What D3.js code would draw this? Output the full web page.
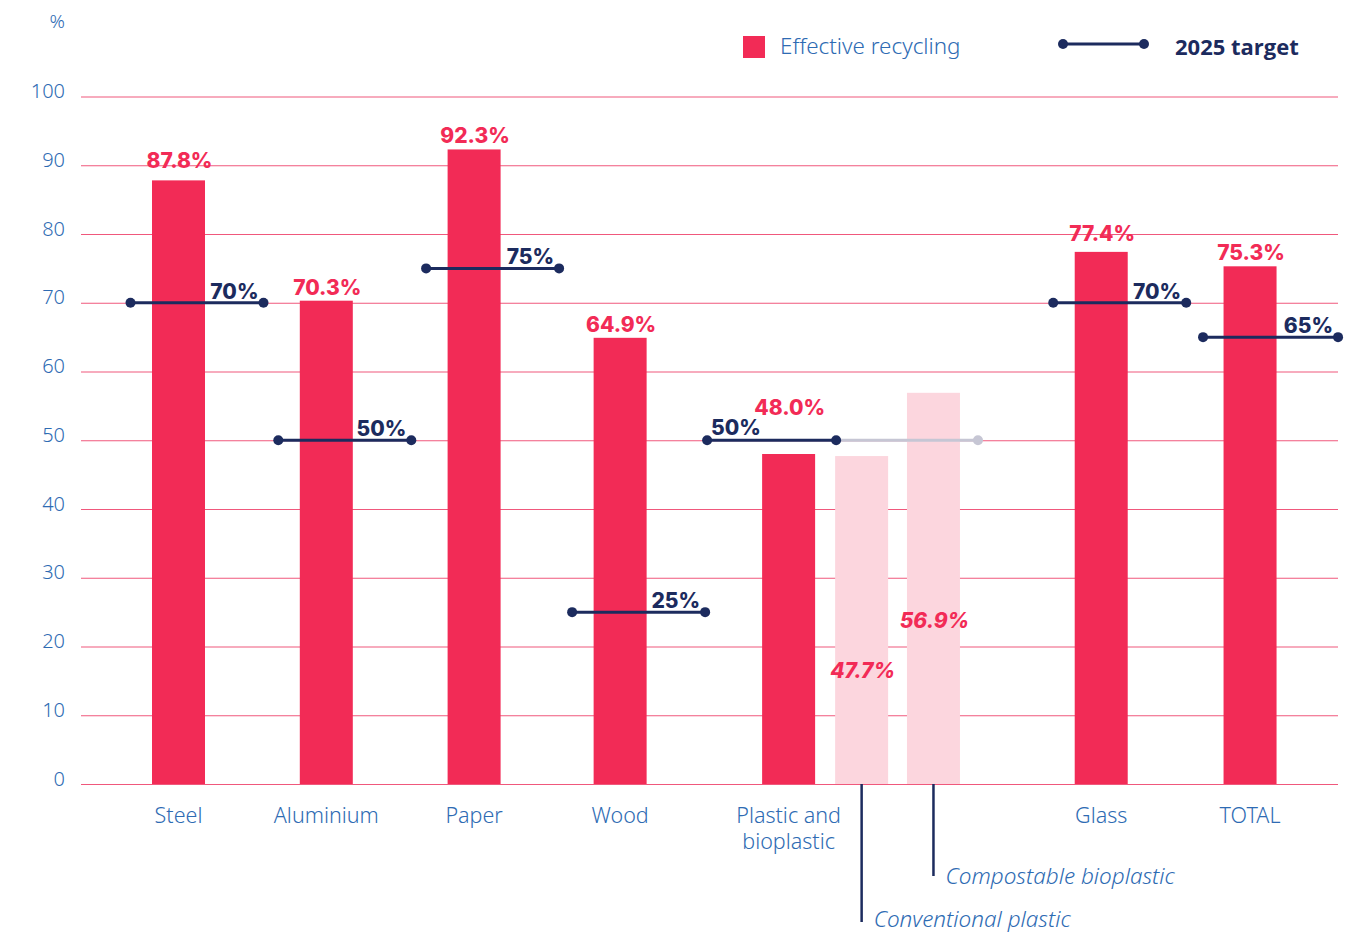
<!DOCTYPE html>
<html>
<head>
<meta charset="utf-8">
<script src="https://cdn.jsdelivr.net/npm/d3@7"></script>
<style>
  html, body { margin: 0; padding: 0; background: #fff; }
  svg { display: block; }
</style>
</head>
<body>
<svg id="chart" width="1354" height="934"></svg>
<script>
// ---------- DATA ----------
const categories = ["Steel", "Aluminium", "Paper", "Wood", "Plastic and bioplastic", "Glass", "TOTAL"];
const effectiveRecycling = [87.8, 70.3, 92.3, 64.9, 48.0, 77.4, 75.3];
const targets2025 = [70, 50, 75, 25, 50, 70, 65];
const plasticSubCategories = ["Conventional plastic", "Compostable bioplastic"];
const plasticSubValues = [47.7, 56.9];
const yTicks = [0, 10, 20, 30, 40, 50, 60, 70, 80, 90, 100];
const legendLabels = ["Effective recycling", "2025 target"];
const yUnit = "%";

// ---------- STYLE ----------
const RED = "#F22B56", PINK = "#FCD6DE", NAVY = "#1C2B5E", BLUE = "#2E6BB3", GRID = "#F0587C", GREY = "#C6C6D4";
const TEXT_FONT = "'Noto Sans', sans-serif";
const BOLD_FONT = "Inter, sans-serif";

const svg = d3.select("#chart");

// ---------- SCALES ----------
const y = d3.scaleLinear().domain([0, 100]).range([784, 96.5]);
// slot layout (in units of category spacing)
const slotOf = {
  "Steel": 0, "Aluminium": 1, "Paper": 2, "Wood": 2.988, "Plastic and bioplastic": 4.128,
  "Conventional plastic": 4.622, "Compostable bioplastic": 5.108, "Glass": 6.243, "TOTAL": 7.25
};
const x = d3.scaleLinear().domain([0, 1]).range([178.5, 326.3]);
const cx = name => x(slotOf[name]);
const barW = 53;

// ---------- GRID ----------
const yAxis = d3.axisLeft(y).tickValues(yTicks).tickSize(-(1338 - 81)).tickFormat(d3.format("d"));
const gAxis = svg.append("g").attr("transform", "translate(81,0)").call(yAxis);
gAxis.select(".domain").remove();
gAxis.selectAll(".tick line").attr("stroke", GRID).attr("stroke-width", 1.2);
gAxis.selectAll(".tick text")
  .attr("x", -16).attr("dy", "0.05em")
  .attr("fill", BLUE).style("font-family", TEXT_FONT).style("font-size", "20px").style("font-weight", 300);

svg.append("text").attr("x", 65).attr("y", 28).attr("text-anchor", "end")
  .attr("fill", BLUE).style("font-family", TEXT_FONT).style("font-size", "19px").style("font-weight", 300)
  .text(yUnit);

// ---------- BARS ----------
const mainData = categories.map((c, i) => ({ c, v: effectiveRecycling[i], t: targets2025[i] }));
const subData = plasticSubCategories.map((c, i) => ({ c, v: plasticSubValues[i] }));

svg.append("g").selectAll("rect").data(subData).join("rect")
  .attr("x", d => cx(d.c) - barW / 2).attr("width", barW)
  .attr("y", d => y(d.v)).attr("height", d => y(0) - y(d.v))
  .attr("fill", PINK);

svg.append("g").selectAll("rect").data(mainData).join("rect")
  .attr("x", d => cx(d.c) - barW / 2).attr("width", barW)
  .attr("y", d => y(d.v)).attr("height", d => y(0) - y(d.v))
  .attr("fill", RED);

// ---------- TARGET LINES ----------
const defaultSpan = [-48, 85];
const tg = svg.append("g");
mainData.forEach(d => {
  let x0, x1;
  if (d.c === "Plastic and bioplastic") {
    x0 = cx(d.c) - 81.5;
    x1 = cx("Conventional plastic") - 25.5;
    const x2 = cx("Compostable bioplastic") + 44.5;
    tg.append("line").attr("x1", x1).attr("x2", x2).attr("y1", y(d.t)).attr("y2", y(d.t))
      .attr("stroke", GREY).attr("stroke-width", 3);
    tg.append("circle").attr("cx", x2).attr("cy", y(d.t)).attr("r", 5).attr("fill", GREY);
  } else {
    x0 = cx(d.c) + defaultSpan[0];
    x1 = cx(d.c) + defaultSpan[1];
    if (d.c === "TOTAL") { x0 += 1; x1 += 3; }
  }
  tg.append("line").attr("x1", x0).attr("x2", x1).attr("y1", y(d.t)).attr("y2", y(d.t))
    .attr("stroke", NAVY).attr("stroke-width", 3);
  tg.append("circle").attr("cx", x0).attr("cy", y(d.t)).attr("r", 5).attr("fill", NAVY);
  tg.append("circle").attr("cx", x1).attr("cy", y(d.t)).attr("r", 5).attr("fill", NAVY);
  const left = d.c === "Plastic and bioplastic";
  tg.append("text")
    .attr("x", left ? x0 + 4 : x1 - 5)
    .attr("y", y(d.t) - (left ? 5 : 4))
    .attr("text-anchor", left ? "start" : "end")
    .attr("fill", NAVY).style("font-family", BOLD_FONT).style("font-size", "21px").style("font-weight", 800)
    .text(d.t + "%");
});

// ---------- VALUE LABELS ----------
const labelGap = { "Steel": 12, "Glass": 11, "Plastic and bioplastic": 39 };
svg.append("g").selectAll("text").data(mainData).join("text")
  .attr("x", d => cx(d.c) + 1)
  .attr("y", d => y(d.v) - (labelGap[d.c] || 6))
  .attr("text-anchor", "middle")
  .attr("fill", RED).style("font-family", BOLD_FONT).style("font-size", "21px").style("font-weight", 800)
  .text(d => d3.format(".1f")(d.v) + "%");

const insideBaseline = { "Conventional plastic": 678, "Compostable bioplastic": 628 };
svg.append("g").selectAll("text").data(subData).join("text")
  .attr("x", d => cx(d.c) + 1)
  .attr("y", d => insideBaseline[d.c])
  .attr("text-anchor", "middle")
  .attr("fill", RED).style("font-family", BOLD_FONT).style("font-size", "21px").style("font-weight", 800)
  .style("font-style", "italic")
  .text(d => d3.format(".1f")(d.v) + "%");

// ---------- CATEGORY LABELS ----------
const catG = svg.append("g");
mainData.forEach(d => {
  if (d.c === "Plastic and bioplastic") {
    ["Plastic and", "bioplastic"].forEach((line, k) => {
      catG.append("text").attr("x", cx(d.c)).attr("y", 823 + k * 25.5).attr("text-anchor", "middle")
        .attr("fill", BLUE).style("font-family", TEXT_FONT).style("font-size", "21.5px").style("font-weight", 300)
        .text(line);
    });
  } else {
    catG.append("text").attr("x", cx(d.c)).attr("y", 823).attr("text-anchor", "middle")
      .attr("fill", BLUE).style("font-family", TEXT_FONT).style("font-size", "21.5px").style("font-weight", 300)
      .text(d.c);
  }
});

// ---------- SUB-CATEGORY ANNOTATIONS ----------
const annEnd = { "Conventional plastic": 922, "Compostable bioplastic": 876 };
const annBaseline = { "Conventional plastic": 927, "Compostable bioplastic": 884 };
subData.forEach(d => {
  const xx = cx(d.c);
  catG.append("line").attr("x1", xx).attr("x2", xx).attr("y1", y(0)).attr("y2", annEnd[d.c])
    .attr("stroke", NAVY).attr("stroke-width", 2.5);
  catG.append("text").attr("x", xx + 12).attr("y", annBaseline[d.c])
    .attr("fill", BLUE).style("font-family", TEXT_FONT).style("font-size", "22.5px").style("font-weight", 300)
    .style("font-style", "italic").text(d.c);
});

// ---------- LEGEND ----------
const lg = svg.append("g");
lg.append("rect").attr("x", 743).attr("y", 36).attr("width", 22).attr("height", 22).attr("fill", RED);
lg.append("text").attr("x", 780).attr("y", 54).attr("fill", BLUE)
  .style("font-family", TEXT_FONT).style("font-size", "22.4px").style("font-weight", 300).text(legendLabels[0]);
lg.append("line").attr("x1", 1063).attr("x2", 1144).attr("y1", 44).attr("y2", 44)
  .attr("stroke", NAVY).attr("stroke-width", 3);
lg.append("circle").attr("cx", 1063).attr("cy", 44).attr("r", 5).attr("fill", NAVY);
lg.append("circle").attr("cx", 1144).attr("cy", 44).attr("r", 5).attr("fill", NAVY);
lg.append("text").attr("x", 1175).attr("y", 55).attr("fill", NAVY)
  .style("font-family", "'Open Sans', sans-serif").style("font-size", "22px").style("font-weight", 700).text(legendLabels[1]);
</script>
</body>
</html>
